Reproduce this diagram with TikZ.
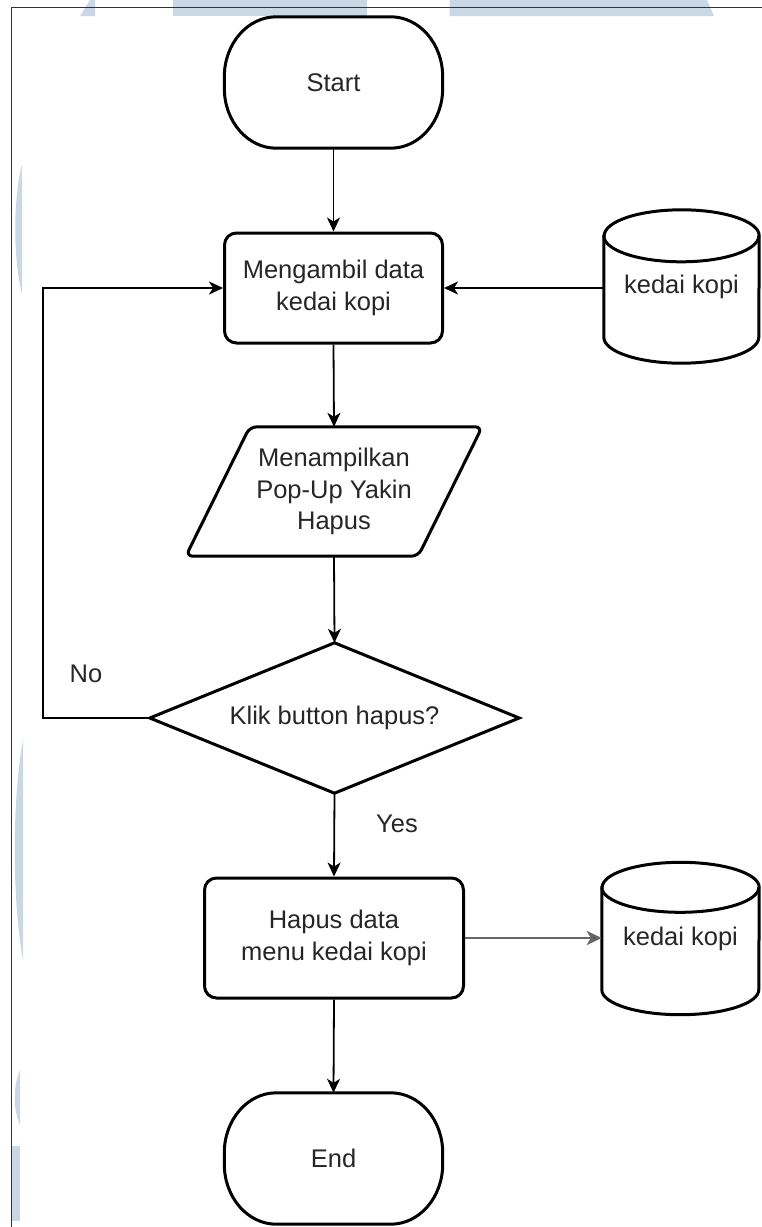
\documentclass[tikz,border=0pt]{standalone}
\usepackage{fontspec}
\setmainfont{Liberation Sans}
\usetikzlibrary{arrows.meta,calc}
\definecolor{wm}{RGB}{202,215,229}
\definecolor{txt}{RGB}{38,38,38}
\tikzset{
  fnt/.style={font=\fontsize{25.5}{31.5}\selectfont},
  shapeline/.style={draw=black, line width=3pt},
  base/.style={shapeline, text=txt, fnt, align=center, inner sep=0pt},
  proc/.style={base, rounded corners=12pt},
  ghost/.style={draw=none, text=txt, fnt, align=center, inner sep=0pt},
  term/.style={ghost, minimum width=218pt, minimum height=131pt},
  conn/.style={draw=black, line width=1.8pt, -{Stealth[length=14pt,width=13pt,inset=4pt]}},
  lbl/.style={text=txt, fnt, inner sep=0pt}
}
\newcommand{\termpath}[1]{%
  \draw[shapeline] (#1.north) -- ($(#1.north east)+(-52,0)$)
    arc[start angle=90, end angle=0, x radius=52pt, y radius=60pt]
    -- ($(#1.south east)+(0,-60)$)
    arc[start angle=0, end angle=-90, x radius=52pt, y radius=60pt]
    -- ($(#1.south west)+(52,0)$)
    arc[start angle=270, end angle=180, x radius=52pt, y radius=60pt]
    -- ($(#1.north west)+(0,60)$)
    arc[start angle=180, end angle=90, x radius=52pt, y radius=60pt]
    -- cycle;}
\begin{document}
\begin{tikzpicture}[x=1pt,y=-1pt]
\useasboundingbox (0,0) rectangle (762,1227);
% watermark
\fill[wm] (90,0) -- (95,0) -- (95,16) -- (80,16) -- cycle;
\fill[wm] (172.5,0) rectangle (367,16);
\fill[wm] (449.5,0) -- (707,0) -- (714,16) -- (449.5,16) -- cycle;
\fill[wm] (22,164) .. controls (13,200) and (13,258) .. (22,294) -- cycle;
\fill[wm] (23,740) .. controls (12,800) and (12,900) .. (23,960) -- cycle;
\fill[wm] (20,1070) .. controls (13,1085) and (13,1110) .. (20,1125) -- cycle;
\fill[wm] (12,1146) rectangle (20,1221);
% frame
\draw[line width=1.3pt, black!80] (11.5,1227) -- (11.5,7.5) -- (762,7.5);

% nodes
\node[term] (start) at (333.5,82.5) {Start};
\termpath{start}
\node[proc, minimum width=218pt, minimum height=110pt] (get) at (333.5,288) {Mengambil data\\kedai kopi};
\node[ghost, minimum width=296pt, minimum height=129pt] (show) at (334,491.5) {Menampilkan\\Pop-Up Yakin\\Hapus};
\draw[shapeline, rounded corners=7pt] (show.north) -- (show.north east) -- ($(show.south east)+(-64,0)$) -- (show.south west) -- ($(show.north west)+(64,0)$) -- cycle;
\node[ghost, minimum width=369pt, minimum height=150pt] (dec) at (334.5,718) {Klik button hapus?};
\draw[shapeline] (dec.north) -- (dec.east) -- (dec.south) -- (dec.west) -- cycle;
\node[proc, minimum width=259pt, minimum height=120pt] (del) at (334,938) {Hapus data\\menu kedai kopi};
\node[term] (end) at (333.5,1158.5) {End};
\termpath{end}

% databases
\node[ghost, minimum width=155pt, minimum height=153pt] (db1) at (681.5,286.5) {kedai kopi};
\draw[shapeline] ($(db1.north west)+(0,26)$) -- ($(db1.south west)+(0,-26)$)
  arc[start angle=180, end angle=360, x radius=77.5pt, y radius=26pt]
  -- ($(db1.north east)+(0,26)$)
  arc[start angle=0, end angle=180, x radius=77.5pt, y radius=26pt] -- cycle;
\draw[shapeline] ($(db1.north west)+(0,26)$) arc[start angle=180, end angle=360, x radius=77.5pt, y radius=26pt];

\node[ghost, minimum width=157pt, minimum height=152pt] (db2) at (680.5,938.5) {kedai kopi};
\draw[shapeline] ($(db2.north west)+(0,25)$) -- ($(db2.south west)+(0,-25)$)
  arc[start angle=180, end angle=360, x radius=78.5pt, y radius=25pt]
  -- ($(db2.north east)+(0,25)$)
  arc[start angle=0, end angle=180, x radius=78.5pt, y radius=25pt] -- cycle;
\draw[shapeline] ($(db2.north west)+(0,25)$) arc[start angle=180, end angle=360, x radius=78.5pt, y radius=25pt];

% labels
\node[lbl] (no) at (86,674) {No};
\node[lbl] (yes) at (397,824) {Yes};

% connectors
\draw[conn] (start.south) -- (get.north);
\draw[conn] (get.south) -- (show.north);
\draw[conn] (show.south) -- (dec.north);
\draw[conn] (dec.south) -- (del.north);
\draw[conn] (del.south) -- (end.north);
\draw[conn] (get.east -| db1.west) -- (get.east);
\coordinate (lp) at (43,718);
\draw[conn] (dec.west) -- (lp) |- (get.west);
\draw[conn, draw=black!60, line width=2.6pt, -{Stealth[length=15pt,width=14pt,inset=4pt,fill=black!85]}] (del.east) -- (del.east -| db2.west);
\end{tikzpicture}
\end{document}
